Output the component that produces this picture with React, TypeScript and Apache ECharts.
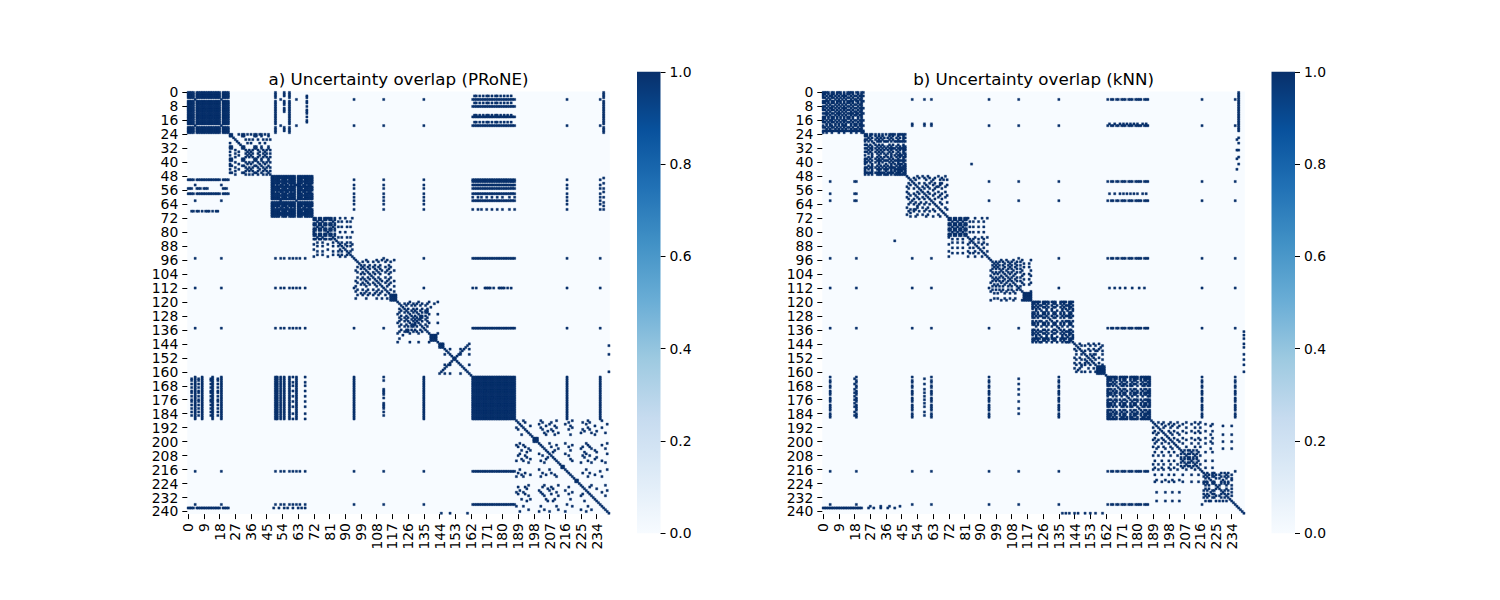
import { useEffect, useRef } from "react";
import * as echarts from "echarts";

const N = 242;
const FONT = "DejaVu Sans";

// expands a range of node indices (skip lists holes)
const span = (a: number, b: number, skip: number[] = []) => {
  const out: number[] = [];
  for (let i = a; i <= b; i++) if (!skip.includes(i)) out.push(i);
  return out;
};

const NODE_LABELS = Array.from({ length: N }, (_, i) => String(i));
const COLORBAR_TICKS = [0, 0.2, 0.4, 0.6, 0.8, 1.0];
const BLUES = ["#f7fbff", "#deebf7", "#c6dbef", "#9ecae1", "#6baed6", "#4292c6", "#2171b5", "#08519c", "#08306b"];

// ---- a) PRoNE ----
const PRONE_HUBS = [4, 19, 53, 62, 95, 112, 135, 217, 236];

const PRONE_GROUPS = [
  span(0, 23, [4, 19]),
  [24, 25, 31, 32, 38, 39, 42, 46],
  [27, 33, 35, 37, 40, 43, 45, 47],
  [24, 29, 34, 36, 41, 44],
  span(48, 71, [53, 57, 62, 66]),
  [48, 49, 51, 53, 54, 56, 57, 59, 61, 63, 64, 66, 67, 69, 70],
  [72, 73, 75, 76, 78, 79, 81, 82, 84],
  [74, 77, 83, 86, 88, 91, 93],
  [72, 80, 87, 90, 94],
  [116, 117, 118, 119],
  [97, 100, 103, 106, 109, 113, 116],
  [99, 101, 104, 107, 110, 115],
  [96, 102, 108, 111, 114, 118],
  [139, 140, 141, 142],
  [121, 124, 126, 129, 131, 134, 137],
  [122, 125, 128, 130, 133, 136],
  [120, 127, 132, 138, 143],
  [144, 145, 146],
  [147, 150, 156, 161],
  span(163, 187),
  [198, 199, 200],
  [214, 215],
  [222, 223],
  [189, 193, 203, 208, 218, 226, 230],
  [191, 196, 205, 210, 219, 233],
  [195, 204, 212, 225, 231, 239],
  [194, 206, 209, 227, 234],
  [188, 192, 202, 211, 220, 229, 237],
  [190, 201, 207, 216, 228, 240],
  PRONE_HUBS,
];

const PRONE_LINKS: [number[], number[]][] = [
  [[4, 19, 53, 62, 95, 135, 217, 236], span(163, 187)],
  [[112], [163, 165, 170, 171, 172, 173, 175, 178, 179, 180, 181, 183, 185]],
  [[8, 14], span(163, 187)],
  [[2, 6, 13, 17], [164, 165, 167, 169, 171, 172, 174, 176, 177, 179, 181, 183, 185]],
  [[50, 51, 55, 58], span(163, 187)],
  [[60, 67], [163, 166, 168, 171, 174, 177, 180, 184, 187]],
  [[50, 58], span(0, 23, [4, 19])],
  [[55], [0, 1, 2, 5, 6, 7, 9, 10, 11, 20, 21, 22]],
  [[68], [2, 3, 5, 6, 8, 10, 11, 12, 14, 16, 17]],
  [[95, 112, 135, 217, 236], [50, 55, 58, 60, 64, 67]],
  [[238], span(0, 23, [4, 19])],
  [[238], [49, 52, 55, 57, 60, 63, 65, 67]],
  [[241], [145, 150, 160]],
];

const PRONE_PAIRS: [number, number][] = [
  [144, 161], [145, 160], [146, 159], [147, 158], [148, 157], [149, 156], [150, 155], [151, 154], [152, 153],
  [121, 141], [123, 139], [125, 137], [126, 136], [128, 134], [129, 133], [130, 132],
];

// ---- b) kNN ----
const KNN_HUBS = [4, 19, 51, 62, 95, 112, 135, 217, 236];

const KNN_GROUPS = [
  [0, 1, 3, 5, 6, 8, 10, 12, 14, 15, 17, 20, 22],
  [2, 4, 7, 9, 11, 13, 16, 18, 19, 21, 22],
  [0, 2, 5, 9, 12, 16, 19, 22, 23],
  [24, 25, 27, 30, 32, 34, 38, 40, 43, 46],
  [26, 28, 31, 33, 35, 37, 39, 42, 44, 46, 47],
  [24, 28, 32, 36, 39, 41, 43, 44, 45, 47],
  [49, 52, 55, 58, 61, 64, 68],
  [48, 54, 57, 60, 66, 70],
  [50, 53, 59, 63, 67, 71],
  [72, 73, 75, 76, 78, 79, 81, 82],
  [74, 77, 80, 84, 86, 89, 92],
  [72, 83, 87, 91, 94],
  [115, 116, 117, 118, 119],
  [97, 99, 101, 103, 106, 108, 111, 113],
  [98, 100, 104, 107, 110, 115, 118],
  [96, 102, 105, 109, 114, 119],
  [120, 121, 123, 126, 127, 129, 132, 133, 136, 138, 141, 142],
  [122, 125, 128, 131, 134, 137, 140, 143],
  [120, 122, 124, 128, 131, 137, 139, 141, 143],
  [157, 158, 159, 160, 161],
  [145, 148, 150, 153, 156, 160],
  [144, 147, 152, 155, 158],
  [163, 164, 165, 167, 170, 172, 173, 176, 178, 179, 182, 184, 185, 187],
  [163, 166, 168, 171, 174, 177, 180, 183, 186, 187],
  [164, 168, 172, 176, 180, 184, 186],
  [205, 207, 209, 210, 212, 214],
  [218, 220, 223, 224, 228, 230, 232],
  [219, 221, 225, 227, 231, 234],
  [189, 192, 195, 199, 203, 208, 213, 216],
  [190, 194, 198, 201, 206, 211, 215, 219, 223],
  [191, 196, 200, 204, 222, 229, 234],
  KNN_HUBS,
];

const KNN_LINKS: [number[], number[]][] = [
  [[4, 19, 51, 62, 95, 135, 217, 236], [163, 165, 166, 168, 169, 171, 172, 173, 175, 176, 177, 179, 180, 181, 182, 184, 185, 186]],
  [[18, 58], [164, 167, 170, 172, 174, 176, 178, 180, 183, 185]],
  [[112], [164, 167, 170, 173, 177, 181, 184]],
  [[51, 58, 62], [4, 18, 19]],
  [[238], span(0, 22)],
  [[238], [26, 29, 33, 37, 41]],
  [[237], [27, 33, 38, 44]],
  [[241], [137, 139, 141, 144, 146, 150, 153, 156, 160]],
  [[41], [85]],
];

const KNN_PAIRS: [number, number][] = [
  [50, 69], [52, 67], [54, 65], [56, 63], [58, 61],
  [146, 159], [148, 157], [150, 155], [151, 154],
];

function buildCells(groups: number[][], links: [number[], number[]][], pairs: [number, number][]) {
  const on = new Set<number>();
  const mark = (i: number, j: number) => {
    on.add(i * N + j);
    on.add(j * N + i);
  };
  for (let i = 0; i < N; i++) mark(i, i);
  groups.forEach((g) => g.forEach((i) => g.forEach((j) => mark(i, j))));
  links.forEach(([rows, cols]) => rows.forEach((i) => cols.forEach((j) => mark(i, j))));
  pairs.forEach(([i, j]) => mark(i, j));
  return Array.from(on).map((k) => [k % N, Math.floor(k / N), 1]);
}

const PANELS = [
  { title: "a) Uncertainty overlap (PRoNE)", left: 187.3, barLeft: 637, cells: buildCells(PRONE_GROUPS, PRONE_LINKS, PRONE_PAIRS) },
  { title: "b) Uncertainty overlap (kNN)", left: 822.3, barLeft: 1271.5, cells: buildCells(KNN_GROUPS, KNN_LINKS, KNN_PAIRS) },
];

const MAP_TOP = 91.6;
const MAP_SIZE = 422.5;
const BAR_TOP = 71.8;
const BAR_HEIGHT = 461.4;
const CELL_COLOR = BLUES[BLUES.length - 1];
const LABEL_STYLE = { color: "#000", fontSize: 13.9, fontFamily: FONT };
const TICK_STYLE = { color: "#000", width: 1 };

export default function App() {
  const chartRef = useRef<HTMLDivElement>(null);

  useEffect(() => {
    if (!chartRef.current) return;
    const chart = echarts.init(chartRef.current, null, { renderer: "svg" });

    const grid: any[] = [];
    const xAxis: any[] = [];
    const yAxis: any[] = [];
    const series: any[] = [];
    const graphic: any[] = [];

    PANELS.forEach((p, k) => {
      const gi = k * 2;
      grid.push({
        left: p.left, top: MAP_TOP, width: MAP_SIZE, height: MAP_SIZE,
        show: true, backgroundColor: BLUES[0], borderWidth: 0,
      });
      grid.push({ left: p.barLeft, top: BAR_TOP, width: 23.5, height: BAR_HEIGHT, show: false });

      xAxis.push({
        type: "category", gridIndex: gi, data: NODE_LABELS, position: "bottom",
        axisLine: { show: false },
        axisTick: { show: true, interval: 8, alignWithLabel: true, length: 5, lineStyle: TICK_STYLE },
        axisLabel: { ...LABEL_STYLE, interval: 8, rotate: 90, margin: 9 },
        splitLine: { show: false }, splitArea: { show: false },
      });
      yAxis.push({
        type: "category", gridIndex: gi, data: NODE_LABELS, inverse: true,
        axisLine: { show: false },
        axisTick: { show: true, interval: 7, alignWithLabel: true, length: 5, lineStyle: TICK_STYLE },
        axisLabel: { ...LABEL_STYLE, interval: 7, margin: 9 },
        splitLine: { show: false }, splitArea: { show: false },
      });
      xAxis.push({ type: "category", gridIndex: gi + 1, data: ["cb"], show: false });
      yAxis.push({
        type: "value", gridIndex: gi + 1, position: "right",
        min: COLORBAR_TICKS[0], max: COLORBAR_TICKS[COLORBAR_TICKS.length - 1], interval: 0.2,
        axisLine: { show: false },
        axisTick: { show: true, length: 5, lineStyle: TICK_STYLE },
        axisLabel: { ...LABEL_STYLE, margin: 9, formatter: (v: number) => v.toFixed(1) },
        splitLine: { show: false },
      });

      series.push({
        type: "heatmap", xAxisIndex: gi, yAxisIndex: gi,
        data: p.cells, progressive: 0,
        itemStyle: { color: CELL_COLOR, borderColor: CELL_COLOR, borderWidth: 0.35 },
        emphasis: { disabled: true }, silent: true,
      });
      series.push({
        type: "bar", xAxisIndex: gi + 1, yAxisIndex: gi + 1,
        data: [COLORBAR_TICKS[COLORBAR_TICKS.length - 1]], barWidth: "100%", silent: true,
        itemStyle: {
          color: new echarts.graphic.LinearGradient(0, 1, 0, 0,
            BLUES.map((c, i) => ({ offset: i / (BLUES.length - 1), color: c }))),
        },
      });

      graphic.push({
        type: "text", x: p.left + MAP_SIZE / 2, y: 87,
        style: { text: p.title, fill: "#000", font: `16.7px "${FONT}"`, textAlign: "center", textVerticalAlign: "bottom" },
      });
    });

    chart.setOption({
      animation: false,
      backgroundColor: "#fff",
      grid, xAxis, yAxis, series, graphic,
      visualMap: {
        show: false, min: 0, max: 1, dimension: 2, seriesIndex: [0, 2],
        inRange: { color: BLUES },
      },
    });

    return () => chart.dispose();
  }, []);

  return (
    <div
      ref={chartRef}
      style={{ position: "fixed", left: 0, top: 0, width: 1500, height: 600 }}
    />
  );
}
